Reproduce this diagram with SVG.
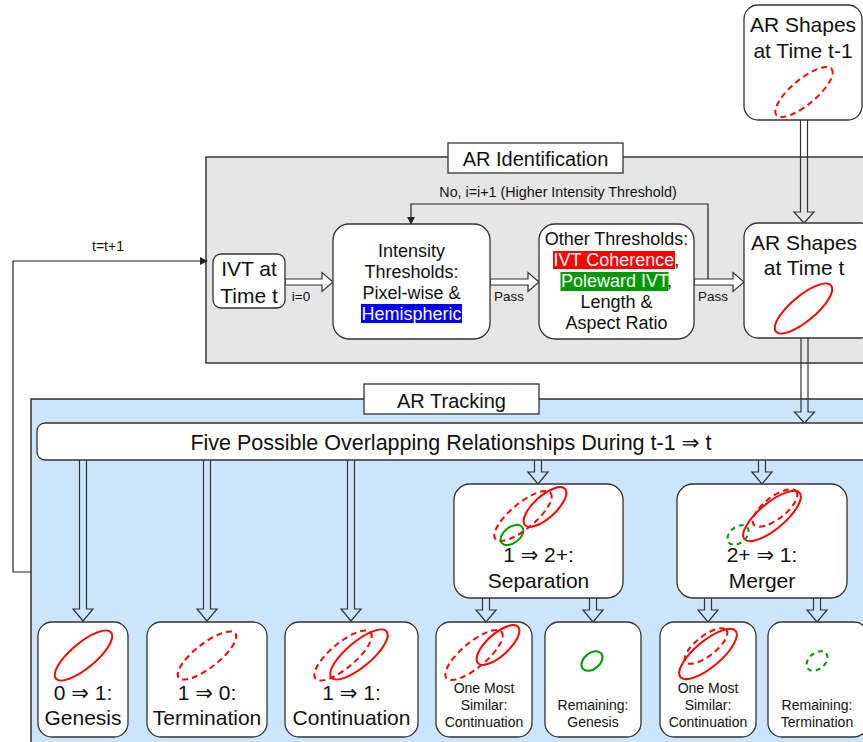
<svg xmlns="http://www.w3.org/2000/svg" width="863" height="742" viewBox="0 0 863 742">
  <defs>
    <style>
      text { font-family: "Liberation Sans", "DejaVu Sans", Arial, sans-serif; fill: #111; text-anchor: middle; }
      .panel { stroke: #333; stroke-width: 1.5; }
      .box { fill: #fff; stroke: #333; stroke-width: 1.3; }
      .label { fill: #fff; stroke: #333; stroke-width: 1.3; }
      .blk { fill: none; stroke: #333; stroke-width: 1.2; stroke-linejoin: miter; }
      .blkw { fill: #fff; stroke: #333; stroke-width: 1.2; }
      .line { fill: none; stroke: #222; stroke-width: 1.2; }
      .red { fill: none; stroke: #ff0000; stroke-width: 2; }
      .reddash { fill: none; stroke: #ff0000; stroke-width: 2; stroke-dasharray: 6 4; }
      .grn { fill: none; stroke: #009900; stroke-width: 2; }
      .grndash { fill: none; stroke: #009900; stroke-width: 2; stroke-dasharray: 5 4; }
      .t21 { font-size: 21px; }
      .t18 { font-size: 18px; }
      .t14 { font-size: 14px; }
      .t13 { font-size: 13.5px; }
    </style>
    <marker id="tri" viewBox="0 0 10 10" refX="9" refY="5" markerWidth="8" markerHeight="8" markerUnits="userSpaceOnUse" orient="auto">
      <path d="M0,0 L10,5 L0,10 z" fill="#222"/>
    </marker>
  </defs>

  <!-- panels -->
  <g id="panel-identification">
    <rect class="panel" x="206" y="157" width="680" height="206" fill="#e6e6e6"/>
    <rect class="label" x="448" y="143" width="175" height="30"/>
    <text class="t21" x="535.5" y="166" style="font-size:20px">AR Identification</text>
  </g>
  <g id="panel-tracking">
    <rect class="panel" x="31" y="399" width="860" height="360" fill="#cce5fb"/>
    <rect class="label" x="364" y="384" width="175" height="30"/>
    <text class="t21" x="451.5" y="408" style="font-size:20px">AR Tracking</text>
  </g>

  <!-- connectors -->
  <g id="connectors">
    <!-- t-1 shapes into time t shapes -->
    <path class="blk" d="M800.5,120 V212 H794 L804,223 L814,212 H807.5 V120"/>
    <!-- time t shapes down to tracking -->
    <path class="blk" d="M801,338 V412 H794.5 L804.5,423 L814.5,412 H808 V338"/>
    <!-- horizontal block arrows -->
    <path class="blkw" d="M285,279 H322 V272.5 L333,282 L322,291.5 V285 H285 Z"/>
    <path class="blkw" d="M490,279 H528 V272.5 L539,282 L528,291.5 V285 H490 Z"/>
    <path class="blkw" d="M694,279 H733 V272.5 L744,282 L733,291.5 V285 H694 Z"/>
    <!-- retry loop -->
    <polyline class="line" points="708,279 708,204 411,204 411,224" marker-end="url(#tri)"/>
    <!-- next time step loop -->
    <polyline class="line" points="31,572 13,572 13,261 207,261" marker-end="url(#tri)"/>
    <!-- relationship arrows -->
    <path class="blk" d="M79.5,460 V609 H73 L83,621 L93,609 H86.5 V460"/>
    <path class="blk" d="M203.5,460 V609 H197 L207,621 L217,609 H210.5 V460"/>
    <path class="blk" d="M347.5,460 V609 H341 L351,621 L361,609 H354.5 V460"/>
    <path class="blk" d="M534.5,460 V472 H528 L538,484 L548,472 H541.5 V460"/>
    <path class="blk" d="M758.5,460 V472 H752 L762,484 L772,472 H765.5 V460"/>
    <path class="blk" d="M482.5,598 V610 H476 L486,622 L496,610 H489.5 V598"/>
    <path class="blk" d="M589.5,598 V610 H583 L593,622 L603,610 H596.5 V598"/>
    <path class="blk" d="M704.5,598 V610 H698 L708,622 L718,610 H711.5 V598"/>
    <path class="blk" d="M813.5,598 V610 H807 L817,622 L827,610 H820.5 V598"/>
    <!-- connector labels -->
    <text class="t14" x="301" y="301" style="font-size:13.5px">i=0</text>
    <text class="t14" x="509" y="301" style="font-size:13.5px">Pass</text>
    <text class="t14" x="713" y="301" style="font-size:13.5px">Pass</text>
    <text class="t14" x="558" y="197" style="font-size:14.3px">No, i=i+1 (Higher Intensity Threshold)</text>
    <text class="t14" x="108" y="251">t=t+1</text>
  </g>

  <!-- nodes -->
  <g id="shapes-t-1">
    <rect class="box" x="744" y="5" width="118" height="115" rx="14"/>
    <text class="t21" x="803" y="32">AR Shapes</text>
    <text class="t21" x="803" y="58">at Time t-1</text>
    <ellipse class="reddash" cx="804" cy="92" rx="36" ry="12.5" transform="rotate(-40 804 92)"/>
  </g>

  <g id="ivt">
    <rect class="box" x="213" y="254" width="72" height="54" rx="8"/>
    <text class="t21" x="249" y="276">IVT at</text>
    <text class="t21" x="249" y="303">Time t</text>
  </g>

  <g id="intensity">
    <rect class="box" x="333" y="224" width="157" height="115" rx="16"/>
    <text class="t18" x="411.5" y="257">Intensity</text>
    <text class="t18" x="411.5" y="278">Thresholds:</text>
    <text class="t18" x="411.5" y="299">Pixel-wise &amp;</text>
    <rect x="361" y="304" width="101" height="19" fill="#0000ff"/>
    <text class="t18" x="411.5" y="320" style="fill:#fff">Hemispheric</text>
  </g>

  <g id="other">
    <rect class="box" x="539" y="224" width="155" height="115" rx="16"/>
    <text class="t18" x="616.5" y="245">Other Thresholds:</text>
    <rect x="553" y="251" width="122" height="18" fill="#ff0000"/>
    <text class="t18" x="616.5" y="266"><tspan style="fill:#fff">IVT Coherence</tspan>,</text>
    <rect x="560.5" y="272" width="108" height="19" fill="#009900"/>
    <text class="t18" x="616.5" y="287"><tspan style="fill:#fff">Poleward IVT</tspan>,</text>
    <text class="t18" x="616.5" y="308">Length &amp;</text>
    <text class="t18" x="616.5" y="329">Aspect Ratio</text>
  </g>

  <g id="shapes-t">
    <rect class="box" x="744" y="223" width="130" height="115" rx="14"/>
    <text class="t21" x="804" y="250">AR Shapes</text>
    <text class="t21" x="804" y="275">at Time t</text>
    <ellipse class="red" cx="803.5" cy="308.5" rx="36" ry="12.5" transform="rotate(-40 803.5 308.5)"/>
  </g>

  <g id="relationships">
    <rect class="box" x="37" y="423" width="840" height="37" rx="8"/>
    <text x="451" y="450" style="font-size:21.5px">Five Possible Overlapping Relationships During t-1 ⇒ t</text>
  </g>

  <g id="separation">
    <rect class="box" x="454" y="484" width="169" height="114" rx="16"/>
    <ellipse class="reddash" cx="523" cy="516" rx="36" ry="12.5" transform="rotate(-40 523 516)"/>
    <ellipse class="red" cx="545" cy="507" rx="27" ry="11" transform="rotate(-42 545 507)"/>
    <ellipse class="grn" cx="512" cy="535" rx="13" ry="8" transform="rotate(-38 512 535)"/>
    <text class="t21" x="538.5" y="562">1 ⇒ 2+:</text>
    <text class="t21" x="538.5" y="588">Separation</text>
  </g>

  <g id="merger">
    <rect class="box" x="677" y="484" width="170" height="114" rx="16"/>
    <ellipse class="reddash" cx="775" cy="508" rx="27" ry="11" transform="rotate(-38 775 508)"/>
    <ellipse class="red" cx="772" cy="516" rx="36" ry="13" transform="rotate(-40 772 516)"/>
    <ellipse class="grndash" cx="738" cy="535" rx="12" ry="8" transform="rotate(-40 738 535)"/>
    <text class="t21" x="762" y="562">2+ ⇒ 1:</text>
    <text class="t21" x="762" y="588">Merger</text>
  </g>

  <g id="genesis">
    <rect class="box" x="38" y="622" width="90" height="115" rx="14"/>
    <ellipse class="red" cx="83.5" cy="655.5" rx="36" ry="12.5" transform="rotate(-40 83.5 655.5)"/>
    <text class="t21" x="83" y="700">0 ⇒ 1:</text>
    <text class="t21" x="83" y="725">Genesis</text>
  </g>

  <g id="termination">
    <rect class="box" x="147" y="622" width="120" height="115" rx="14"/>
    <ellipse class="reddash" cx="207" cy="655.5" rx="36" ry="12" transform="rotate(-38 207 655.5)"/>
    <text class="t21" x="207" y="700">1 ⇒ 0:</text>
    <text class="t21" x="207" y="725">Termination</text>
  </g>

  <g id="continuation">
    <rect class="box" x="285" y="622" width="133" height="115" rx="14"/>
    <ellipse class="reddash" cx="343" cy="655.5" rx="36" ry="12.5" transform="rotate(-40 343 655.5)"/>
    <ellipse class="red" cx="359" cy="654.5" rx="36" ry="12.5" transform="rotate(-40 359 654.5)"/>
    <text class="t21" x="351.5" y="700">1 ⇒ 1:</text>
    <text class="t21" x="351.5" y="725">Continuation</text>
  </g>

  <g id="separation-continuation">
    <rect class="box" x="436" y="622" width="96" height="115" rx="14"/>
    <ellipse class="reddash" cx="474" cy="655" rx="36" ry="12.5" transform="rotate(-40 474 655)"/>
    <ellipse class="red" cx="498" cy="645" rx="27" ry="11" transform="rotate(-42 498 645)"/>
    <text class="t14" x="484" y="693">One Most</text>
    <text class="t14" x="484" y="710">Similar:</text>
    <text class="t14" x="484" y="727">Continuation</text>
  </g>

  <g id="separation-genesis">
    <rect class="box" x="545" y="622" width="96" height="115" rx="14"/>
    <ellipse class="grn" cx="592" cy="661" rx="12" ry="8" transform="rotate(-40 592 661)"/>
    <text class="t14" x="593" y="710">Remaining:</text>
    <text class="t14" x="593" y="727">Genesis</text>
  </g>

  <g id="merger-continuation">
    <rect class="box" x="660" y="622" width="96" height="115" rx="14"/>
    <ellipse class="red" cx="708" cy="654" rx="36" ry="13" transform="rotate(-40 708 654)"/>
    <ellipse class="reddash" cx="706" cy="646" rx="26" ry="10" transform="rotate(-38 706 646)"/>
    <text class="t14" x="708" y="693">One Most</text>
    <text class="t14" x="708" y="710">Similar:</text>
    <text class="t14" x="708" y="727">Continuation</text>
  </g>

  <g id="merger-termination">
    <rect class="box" x="768" y="622" width="100" height="115" rx="14"/>
    <ellipse class="grndash" cx="817" cy="661" rx="12" ry="8" transform="rotate(-40 817 661)"/>
    <text class="t14" x="817" y="710">Remaining:</text>
    <text class="t14" x="817" y="727">Termination</text>
  </g>
</svg>
